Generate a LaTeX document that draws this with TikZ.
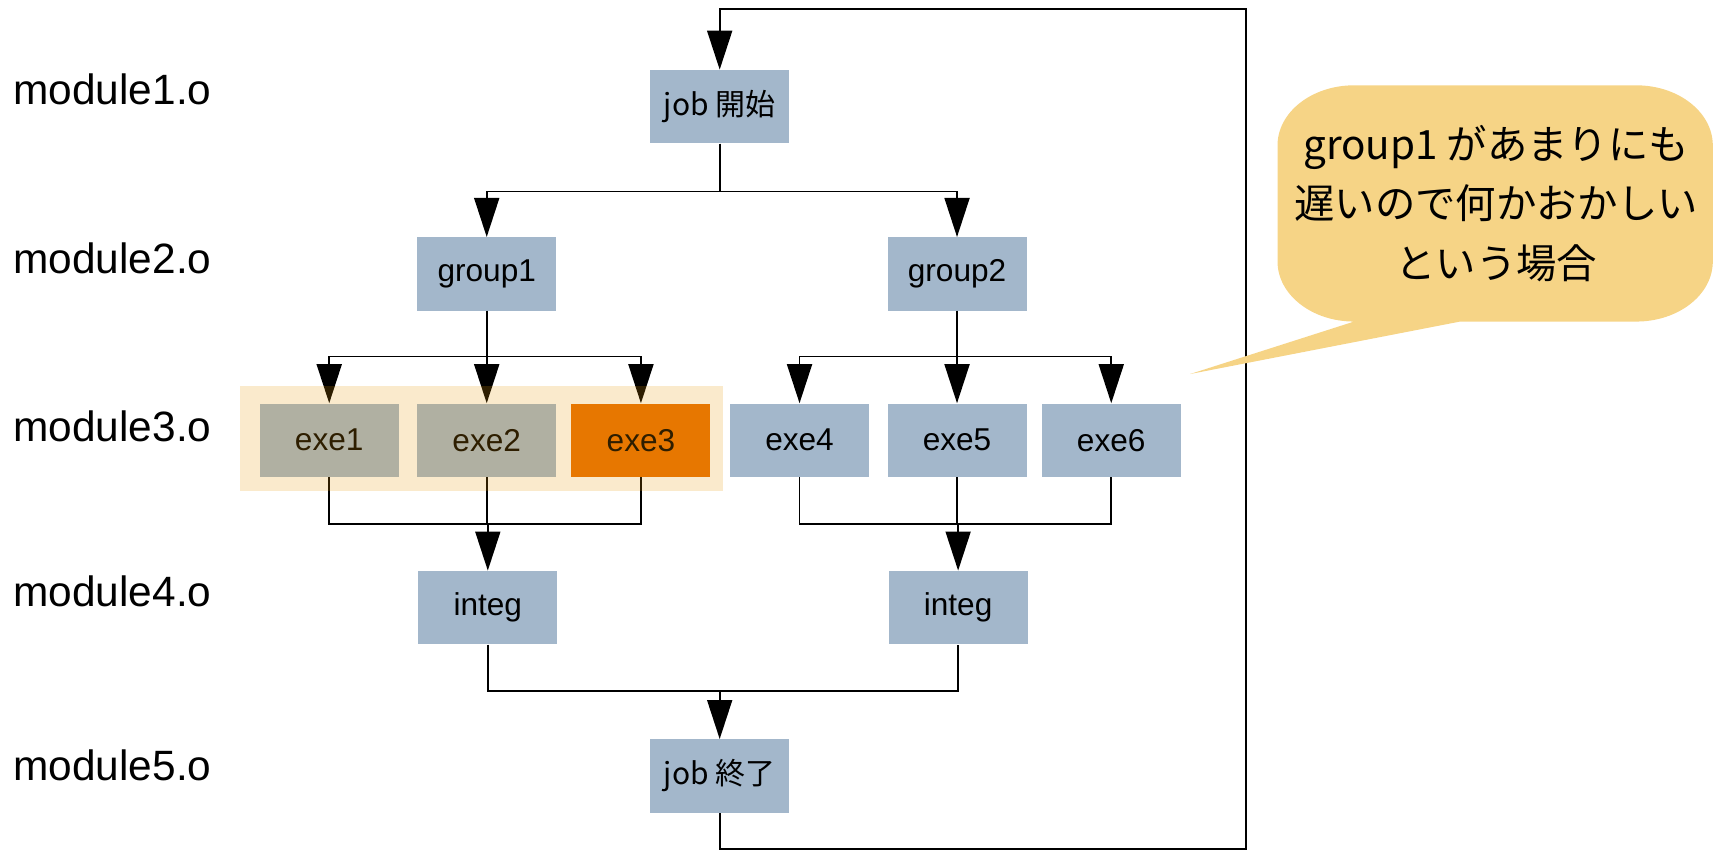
\documentclass[tikz,border=0pt]{standalone}
\usepackage{fontspec}
\setmainfont{Liberation Sans}
\newfontfamily\jpfont{Noto Sans CJK JP}
\usetikzlibrary{arrows.meta}
\definecolor{boxblue}{HTML}{A3B7CB}
\definecolor{hotbox}{HTML}{E87000}
\definecolor{hlorange}{RGB}{230,150,0}
\definecolor{noteyellow}{HTML}{F6D486}
\begin{document}
\begin{tikzpicture}[x=0.546875pt,y=-0.546875pt,
  box/.style={rectangle, fill=boxblue, inner sep=0pt,
    minimum width=69.5pt, minimum height=36.6pt,
    font=\fontsize{15.8pt}{19pt}\selectfont},
  jobbox/.style={box, font=\jpfont\fontsize{15pt}{18pt}\selectfont},
  modlabel/.style={anchor=west, inner sep=0pt,
    font=\fontsize{21.2pt}{25pt}\selectfont},
  link/.style={draw=black, line width=0.85pt},
  arr/.style={link, -{Triangle[length=19.5pt,width=12.5pt]}},
  hlbox/.style={rectangle, fill=hlorange, fill opacity=0.2, inner sep=0pt,
    minimum width=241.7pt, minimum height=52.5pt},
  notetext/.style={align=center, inner sep=0pt,
    font=\jpfont\fontsize{20.2pt}{29.8pt}\selectfont}]

\useasboundingbox (0,0) rectangle (1568,777);

% row labels
\node[modlabel] (m1) at (12,82)  {module1.o};
\node[modlabel] (m2) at (12,236) {module2.o};
\node[modlabel] (m3) at (12,390) {module3.o};
\node[modlabel] (m4) at (12,541) {module4.o};
\node[modlabel] (m5) at (12,700) {module5.o};

% job flow
\node[jobbox] (start) at (658,97.5) {job 開始};
\node[box] (g1) at (445,250.5) {group1};
\node[box] (g2) at (875,250.5) {group2};
\node[box] (e1) at (301,402.5) {exe1};
\node[box] (e2) at (445,402.5) {exe2};
\node[box, fill=hotbox] (e3) at (586,402.5) {exe3};
\node[box] (e4) at (731,402.5) {exe4};
\node[box] (e5) at (875,402.5) {exe5};
\node[box] (e6) at (1016,402.5) {exe6};
\node[box] (i1) at (446,555.5) {integ};
\node[box] (i2) at (876,555.5) {integ};
\node[jobbox] (end) at (658,709.5) {job 終了};

% bus heights
\coordinate (busA) at (0,175);
\coordinate (busB) at (0,326);
\coordinate (busC) at (0,479);
\coordinate (busD) at (0,632);
\coordinate (loopBR) at (1139,776);
\coordinate (loopTR) at (1139,8);

% fan-out from job start
\draw[arr] (start.south) |- (busA -| g1) -- (g1.north);
\draw[arr] (start.south) |- (busA -| g2) -- (g2.north);

% fan-out from the groups
\draw[arr] (g1.south) |- (busB -| e1) -- (e1.north);
\draw[arr] (g1.south) -- (e2.north);
\draw[arr] (g1.south) |- (busB -| e3) -- (e3.north);
\draw[arr] (g2.south) |- (busB -| e4) -- (e4.north);
\draw[arr] (g2.south) -- (e5.north);
\draw[arr] (g2.south) |- (busB -| e6) -- (e6.north);

% merge into integ
\draw[link] (e1.south) |- (busC -| e3) -- (e3.south);
\draw[link] (e2.south) -- (busC -| e2);
\draw[arr] (busC -| i1) -- (i1.north);
\draw[link] (e4.south) |- (busC -| e6) -- (e6.south);
\draw[link] (e5.south) -- (busC -| e5);
\draw[arr] (busC -| i2) -- (i2.north);

% merge into job end
\draw[link] (i1.south) |- (busD -| i2) -- (i2.south);
\draw[arr] (busD -| end) -- (end.north);

% loop back to the start
\draw[arr] (end.south) |- (loopBR) -- (loopTR) -| (start.north);

% highlighted group
\node[hlbox] (hl) at (440,401) {};

% speech balloon
\fill[noteyellow] (1238,78) -- (1496,78)
  .. controls (1534.6,78) and (1566,102.6) .. (1566,133)
  -- (1566,239)
  .. controls (1566,269.4) and (1534.6,294) .. (1496,294)
  -- (1335,294) -- (1088,342) -- (1238,294)
  .. controls (1199.4,294) and (1168,269.4) .. (1168,239)
  -- (1168,133)
  .. controls (1168,102.6) and (1199.4,78) .. (1238,78) -- cycle;
\node[notetext] (note) at (1368,186)
  {group1 があまりにも\\遅いので何かおかしい\\という場合};

\end{tikzpicture}
\end{document}
